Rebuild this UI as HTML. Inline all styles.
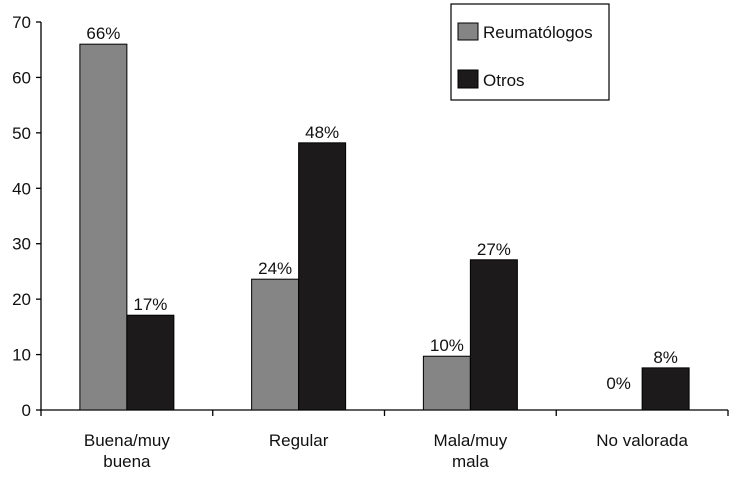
<!DOCTYPE html>
<html><head><meta charset="utf-8"><style>
body{margin:0;background:#fff}
svg{display:block;font-family:"Liberation Sans",Arial,sans-serif}
</style></head><body>
<svg id="chart" width="730" height="477"></svg>
<script>
const categories=[["Buena/muy","buena"],["Regular"],["Mala/muy","mala"],["No valorada"]];
const reumValues=[66,23.6,9.7,0];
const otrosValues=[17.1,48.2,27.1,7.6];
const reumLabels=["66%","24%","10%","0%"];
const otrosLabels=["17%","48%","27%","8%"];
const yTicks=[0,10,20,30,40,50,60,70];
const NS="http://www.w3.org/2000/svg";
const svg=document.getElementById('chart');
const x0=41,x1=728,y0=410,yTop=22,ymax=70;
const bw=(x1-x0)/categories.length;
function y(v){return y0-(y0-yTop)*v/ymax;}
function el(t,a,p){const e=document.createElementNS(NS,t);for(const k in a)e.setAttribute(k,a[k]);(p||svg).appendChild(e);return e;}
// y axis
let ax=el('line',{x1:x0,y1:yTop,x2:x0,y2:y0,stroke:'#000','stroke-width':1.3});


yTicks.forEach(t=>{
  const l=el('line',{x1:x0-5,y1:y(t),x2:x0,y2:y(t),stroke:'#000','stroke-width':1.3});
  
  
  const tx=el('text',{x:x0-10,y:y(t)+6,'text-anchor':'end','font-size':17,fill:'#111'});
  tx.textContent=t;
  
  
});
// x axis
let xa=el('line',{x1:x0,y1:y0,x2:x1,y2:y0,stroke:'#000','stroke-width':1.3});


for(let i=0;i<=categories.length;i++){
  const xx=x0+bw*i;
  const l=el('line',{x1:xx,y1:y0,x2:xx,y2:y0+6,stroke:'#000','stroke-width':1.3});
  
  
}
categories.forEach((c,i)=>{
  const cx=x0+bw*(i+0.5);
  const tx=el('text',{x:cx,y:446,'text-anchor':'middle','font-size':17,fill:'#111'});
  
  
  c.forEach((line,j)=>{const ts=el('tspan',{x:cx,dy:j?21:0},tx);ts.textContent=line;});
  [[reumValues,reumLabels,'#858585',-47,'bar-reumatologos'],[otrosValues,otrosLabels,'#1c1a1b',0,'bar-otros']].forEach(([vals,labs,col,off,name])=>{
    const v=vals[i];
    if(v>0){
      const r=el('rect',{x:cx+off,y:y(v),width:47,height:y0-y(v),fill:col,stroke:'#000','stroke-width':1});
      
      
    }
    const t=el('text',{x:cx+off+23.5,y:y(v)-5-(v===0?16:0),'text-anchor':'middle','font-size':17,fill:'#111'});
    t.textContent=labs[i];
    
    
  });
});
</script>
<svg style="position:absolute;left:0;top:0" width="730" height="477">
<rect x="451" y="4" width="158" height="96" fill="#fff" stroke="#000" stroke-width="1.2"/>
<rect x="458" y="23" width="20" height="17" fill="#858585" stroke="#000"/>
<text x="483" y="38" font-size="17" font-family="Liberation Sans, sans-serif" fill="#111">Reumatólogos</text>
<rect x="458" y="70" width="20" height="18" fill="#1c1a1b" stroke="#000"/>
<text x="483" y="86" font-size="17" font-family="Liberation Sans, sans-serif" fill="#111">Otros</text>
</svg>
</body></html>
